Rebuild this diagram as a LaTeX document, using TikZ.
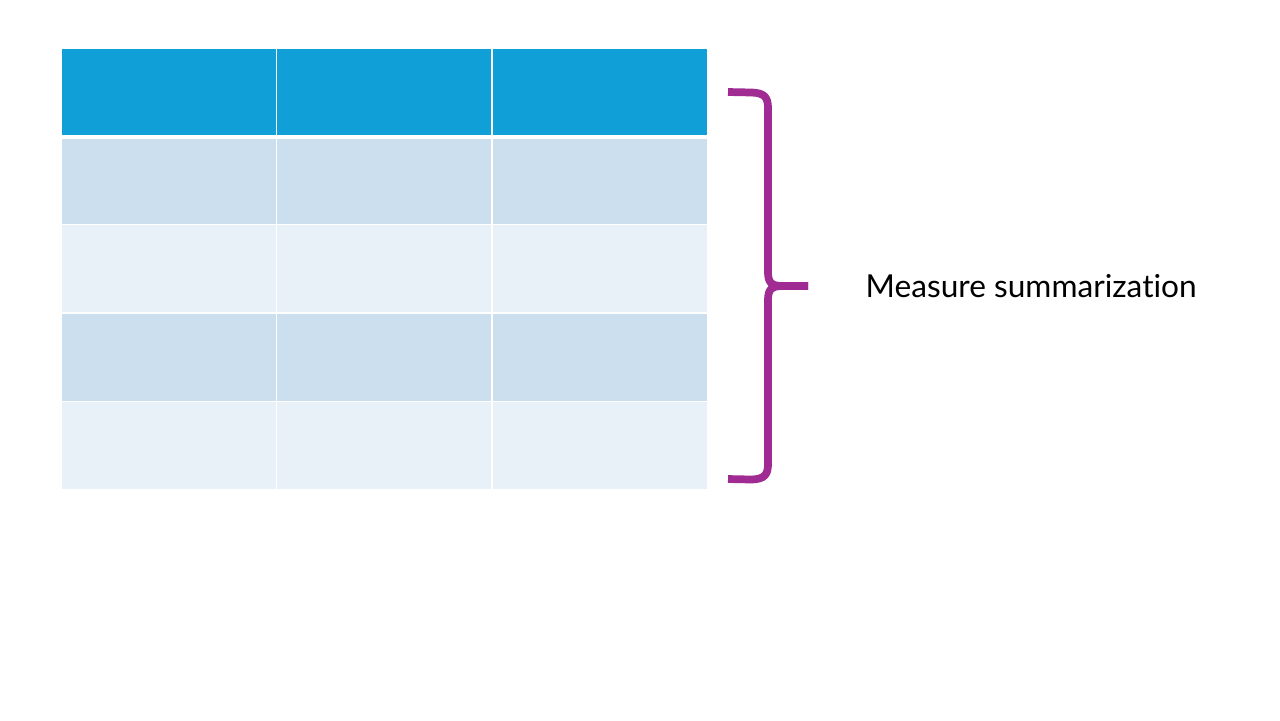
\documentclass[tikz,border=0pt]{standalone}
\usepackage{fontspec}
\setmainfont[Ligatures={NoCommon}]{Lato}
\usetikzlibrary{positioning}
\definecolor{headblue}{RGB}{16,159,215}
\definecolor{bandblue}{RGB}{204,223,238}
\definecolor{paleblue}{RGB}{232,240,248}
\definecolor{bracepurple}{RGB}{160,43,147}
\begin{document}
\begin{tikzpicture}
  [x=0.01cm, y=-0.01cm,
  cell/.style={rectangle, draw=white, line width=0.45pt, inner sep=0pt, anchor=north west,
    minimum width=2.1553cm, minimum height=0.884cm},
  head/.style={cell, fill=headblue},
  band/.style={cell, fill=bandblue},
  pale/.style={cell, fill=paleblue},
  brace/.style={draw=bracepurple, line width=2.2pt, line join=round, line cap=butt},
  label/.style={font=\fontsize{9}{11}\selectfont, anchor=west, inner sep=0pt}]
  \useasboundingbox (0,0) rectangle (1280,720);
  % table
  \foreach \c in {0,1,2}
    \node [head] (h\c) at (60.2+\c*215.53, 47) {};
  \foreach \r/\s in {1/band, 2/pale, 3/band, 4/pale}
    \foreach \c in {0,1,2}
      \node [\s] (c\r\c) at (60.2+\c*215.53, 47+\r*88.4) {};
  \draw [white, line width=1pt] (h0.south west) -- (h2.south east);
  % brace
  \coordinate (btop) at (728,92);
  \coordinate (bbot) at (728,479);
  \coordinate (btip) at (808,286);
  \path [brace] (btip) -- (782,286) .. controls (771,286) and (768,282) .. (768,272)
    -- (768,108) .. controls (768,97) and (764,93) .. (752,92.5) -- (btop);
  \path [brace] (btip) -- (782,286) .. controls (771,286) and (768,290) .. (768,300)
    -- (768,464) .. controls (768,475) and (764,479) .. (752,479.5) -- (bbot);
  % label
  \node [label] (summ) at (865,286) {Measure summarization};
\end{tikzpicture}
\end{document}
